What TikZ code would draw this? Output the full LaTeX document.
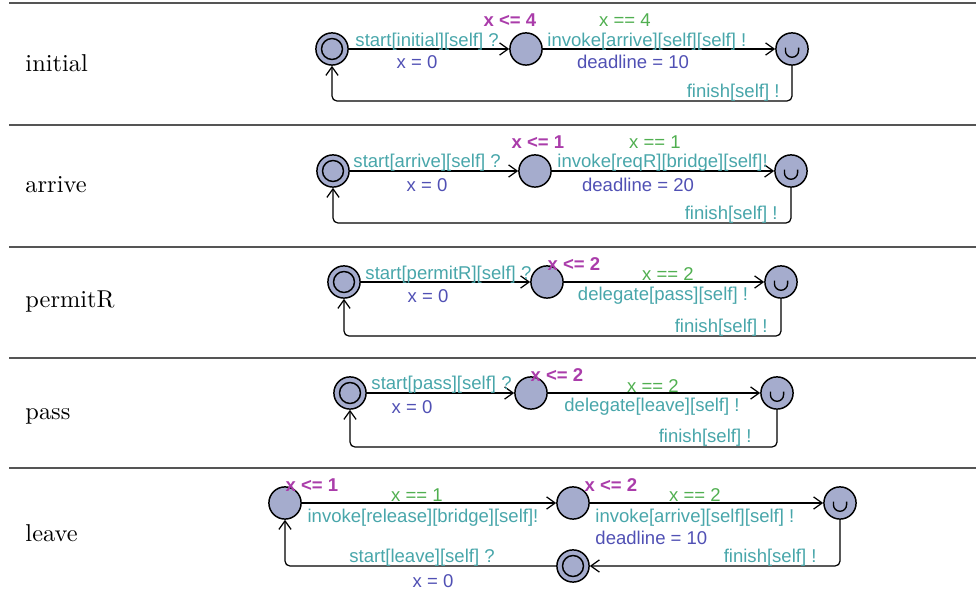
\documentclass[tikz,border=0pt]{standalone}
\usepackage{fontspec}
\newfontfamily\uf{Liberation Sans}
\usetikzlibrary{arrows.meta}
\definecolor{locfill}{RGB}{165,172,205}
\definecolor{synccol}{RGB}{72,166,170}
\definecolor{assigncol}{RGB}{80,80,180}
\definecolor{guardcol}{RGB}{80,175,80}
\definecolor{invcol}{RGB}{170,60,170}
\definecolor{rulecol}{RGB}{85,85,85}
\begin{document}
\begin{tikzpicture}[x=0.41pt,y=-0.41pt,
  loc/.style={circle,draw=black,fill=locfill,minimum size=13.2pt,inner sep=0pt,line width=0.6pt},
  initloc/.style={loc,path picture={\draw[line width=0.6pt] (path picture bounding box.center) circle (4.3pt);}},
  urgloc/.style={loc,path picture={\draw[line width=0.55pt] ([xshift=-2.7pt,yshift=0.6pt]path picture bounding box.center) -- ++(0,-1.3pt) arc (180:360:2.7pt) -- ++(0,1.3pt);}},
  edge/.style={draw=black,line width=0.5pt,-{Straight Barb[length=3.5pt,width=5pt]}},
  lbl/.style={font=\uf\fontsize{7.6}{9}\selectfont,inner sep=0pt},
  sync/.style={lbl,text=synccol},
  assign/.style={lbl,text=assigncol},
  guard/.style={lbl,text=guardcol},
  inv/.style={lbl,text=invcol,font=\uf\bfseries\fontsize{7.6}{9}\selectfont},
  rowname/.style={anchor=base west,inner sep=0pt,font=\normalsize},
  rule/.style={draw=rulecol,line width=0.65pt}
]
\useasboundingbox (0,0) rectangle (976,599);

% separators
\draw[rule] (9,3) -- (976,3);
\draw[rule] (9,125) -- (976,125);
\draw[rule] (9,247) -- (976,247);
\draw[rule] (9,358) -- (976,358);
\draw[rule] (9,468) -- (976,468);

% row names
\node[rowname] (n1) at (25,72) {initial};
\node[rowname] (n2) at (25,193) {arrive};
\node[rowname] (n3) at (25,308) {permitR};
\node[rowname] (n4) at (25,420) {pass};
\node[rowname] (n5) at (25,542) {leave};

% ---- initial
\node[initloc] (i1) at (332,49) {};
\node[loc] (i2) at (526,49) {};
\node[urgloc] (i3) at (792,49) {};
\coordinate (i4) at (332,101);
\draw[edge] (i1) -- (i2);
\draw[edge] (i2) -- (i3);
\draw[edge,rounded corners=2pt] (i3.south) |- (i4) -- (i1.south);
\node[sync,anchor=west] (i1s) at (355,42) {start[initial][self] ?};
\node[assign] (i1a) at (417,62) {x = 0};
\node[inv] (i2i) at (510,20) {x <= 4};
\node[guard] (i2g) at (625,20) {x == 4};
\node[sync,anchor=west] (i2s) at (547,42) {invoke[arrive][self][self] !};
\node[assign] (i2a) at (633,62) {deadline = 10};
\node[sync,anchor=east] (i3s) at (780,93) {finish[self] !};

% ---- arrive
\node[initloc] (a1) at (333,171) {};
\node[loc] (a2) at (535,171) {};
\node[urgloc] (a3) at (791,171) {};
\coordinate (a4) at (333,223);
\draw[edge] (a1) -- (a2);
\draw[edge] (a2) -- (a3);
\draw[edge,rounded corners=2pt] (a3.south) |- (a4) -- (a1.south);
\node[sync,anchor=west] (a1s) at (353,163) {start[arrive][self] ?};
\node[assign] (a1a) at (427,185) {x = 0};
\node[inv] (a2i) at (538,142) {x <= 1};
\node[guard] (a2g) at (655,142) {x == 1};
\node[sync,anchor=west] (a2s) at (557,163) {invoke[reqR][bridge][self]!};
\node[assign] (a2a) at (638,185) {deadline = 20};
\node[sync,anchor=east] (a3s) at (778,215) {finish[self] !};

% ---- permitR
\node[initloc] (p1) at (344,282) {};
\node[loc] (p2) at (547,282) {};
\node[urgloc] (p3) at (781,282) {};
\coordinate (p4) at (344,336);
\draw[edge] (p1) -- (p2);
\draw[edge] (p2) -- (p3);
\draw[edge,rounded corners=2pt] (p3.south) |- (p4) -- (p1.south);
\node[sync,anchor=west] (p1s) at (365,275) {start[permitR][self] ?};
\node[assign] (p1a) at (428,296) {x = 0};
\node[inv] (p2i) at (574,264) {x <= 2};
\node[guard] (p2g) at (668,274) {x == 2};
\node[sync] (p2s) at (663,296) {delegate[pass][self] !};
\node[sync,anchor=east] (p3s) at (768,328) {finish[self] !};

% ---- pass
\node[initloc] (s1) at (350,393) {};
\node[loc] (s2) at (531,393) {};
\node[urgloc] (s3) at (777,393) {};
\coordinate (s4) at (350,447);
\draw[edge] (s1) -- (s2);
\draw[edge] (s2) -- (s3);
\draw[edge,rounded corners=2pt] (s3.south) |- (s4) -- (s1.south);
\node[sync,anchor=west] (s1s) at (371,385) {start[pass][self] ?};
\node[assign] (s1a) at (412,407) {x = 0};
\node[inv] (s2i) at (557,375) {x <= 2};
\node[guard] (s2g) at (653,386) {x == 2};
\node[sync] (s2s) at (652,407) {delegate[leave][self] !};
\node[sync,anchor=east] (s3s) at (752,438) {finish[self] !};

% ---- leave
\node[loc] (l1) at (285,503) {};
\node[loc] (l2) at (573,503) {};
\node[urgloc] (l3) at (840,503) {};
\node[initloc] (l4) at (573,566) {};
\draw[edge] (l1) -- (l2);
\draw[edge] (l2) -- (l3);
\draw[edge,rounded corners=2pt] (l3.south) |- (l4.east);
\draw[edge,rounded corners=2pt] (l4.west) -| (l1.south);
\node[inv] (l1i) at (312,485) {x <= 1};
\node[guard] (l1g) at (417,495) {x == 1};
\node[sync] (l1s) at (423,518) {invoke[release][bridge][self]!};
\node[inv] (l2i) at (611,485) {x <= 2};
\node[guard] (l2g) at (695,495) {x == 2};
\node[sync,anchor=west] (l2s) at (595,518) {invoke[arrive][self][self] !};
\node[assign,anchor=west] (l2a) at (595,538) {deadline = 10};
\node[sync,anchor=east] (l3s) at (817,558) {finish[self] !};
\node[sync] (l4s) at (422,558) {start[leave][self] ?};
\node[assign] (l4a) at (433,581) {x = 0};
\end{tikzpicture}
\end{document}
